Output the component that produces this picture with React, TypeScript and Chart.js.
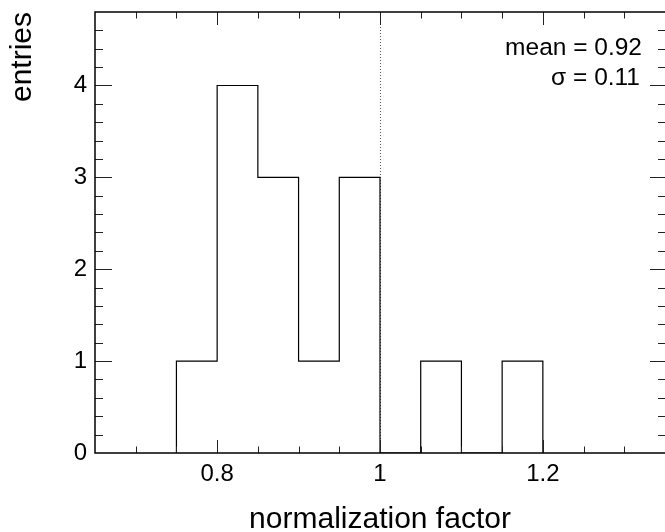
import React, { useEffect, useRef } from 'react';
import { Chart, registerables } from 'chart.js';

Chart.register(...registerables);

// ---- data ----
const binEdges = [0.75, 0.8, 0.85, 0.9, 0.95, 1.0, 1.05, 1.1, 1.15, 1.2];
const binCounts = [1, 4, 3, 1, 3, 0, 1, 0, 1];
const xTickValues = [0.8, 1.0, 1.2];
const xTickLabels = ['0.8', '1', '1.2'];
const yTickValues = [0, 1, 2, 3, 4];
const yTickLabels = ['0', '1', '2', '3', '4'];
const statLabels = ['mean = 0.92', 'σ = 0.11'];
const referenceLine = 1.0;
const xRange = [0.65, 1.35];
const yRange = [0, 4.8];
const xTitle = 'normalization factor';
const yTitle = 'entries';

const FONT = '"Liberation Sans", Arial, Helvetica, sans-serif';

function histogramPoints() {
  const pts: { x: number; y: number }[] = [{ x: binEdges[0], y: 0 }];
  for (let i = 0; i < binCounts.length; i++) {
    pts.push({ x: binEdges[i], y: binCounts[i] });
  }
  pts.push({ x: binEdges[binEdges.length - 1], y: 0 });
  return pts;
}

const rootFrame = {
  id: 'rootFrame',
  beforeDatasetsDraw(chart: any) {
    const { ctx, chartArea: a, scales } = chart;
    const px = scales.x.getPixelForValue(referenceLine);
    ctx.save();
    ctx.strokeStyle = '#555';
    ctx.lineWidth = 1;
    ctx.setLineDash([1, 2]);
    ctx.beginPath();
    ctx.moveTo(Math.round(px) + 0.5, a.top);
    ctx.lineTo(Math.round(px) + 0.5, a.bottom);
    ctx.stroke();
    ctx.restore();
  },
  afterDatasetsDraw(chart: any) {
    const { ctx, chartArea: a, scales } = chart;
    const xs = scales.x;
    const ys = scales.y;
    ctx.save();
    ctx.strokeStyle = '#222';
    ctx.lineWidth = 1;
    ctx.beginPath();
    // x ticks (bottom & top)
    const xStep = 0.05;
    const i0 = Math.ceil(xRange[0] / xStep - 1e-6);
    const i1 = Math.floor(xRange[1] / xStep + 1e-6);
    for (let i = i0; i <= i1; i++) {
      const v = i * xStep;
      if (v <= xRange[0] + 1e-6 || v >= xRange[1] - 1e-6) continue;
      const major = Math.abs(v / 0.2 - Math.round(v / 0.2)) < 1e-6;
      const p = Math.round(xs.getPixelForValue(v)) + 0.5;
      const len = major ? 13 : 6.5;
      ctx.moveTo(p, a.bottom);
      ctx.lineTo(p, a.bottom - len);
      ctx.moveTo(p, a.top);
      ctx.lineTo(p, a.top + len);
    }
    // y ticks (left & right)
    const yStep = 0.2;
    const j0 = Math.ceil(yRange[0] / yStep - 1e-6);
    const j1 = Math.floor(yRange[1] / yStep + 1e-6);
    for (let j = j0; j <= j1; j++) {
      const v = j * yStep;
      if (v <= yRange[0] + 1e-6 || v >= yRange[1] - 1e-6) continue;
      const major = Math.abs(v - Math.round(v)) < 1e-6;
      const p = Math.round(ys.getPixelForValue(v)) + 0.5;
      ctx.moveTo(a.left, p);
      ctx.lineTo(a.left + (major ? 17 : 8), p);
      ctx.moveTo(a.right, p);
      ctx.lineTo(a.right - (major ? 15 : 7), p);
    }
    ctx.stroke();
    // frame
    ctx.strokeStyle = '#000';
    ctx.lineWidth = 1.5;
    ctx.strokeRect(a.left, a.top, a.right - a.left + 3, a.bottom - a.top);
    // stats
    ctx.fillStyle = '#000';
    ctx.font = `24.5px ${FONT}`;
    ctx.textAlign = 'right';
    ctx.textBaseline = 'alphabetic';
    ctx.fillText(statLabels[0], a.right - 23, a.top + 43);
    ctx.fillText(statLabels[1], a.right - 25, a.top + 73);
    ctx.restore();
  },
};

export default function App() {
  const ref = useRef<HTMLCanvasElement | null>(null);
  useEffect(() => {
    if (!ref.current) return;
    const chart = new Chart(ref.current, {
      type: 'line',
      data: {
        datasets: [
          {
            data: histogramPoints(),
            stepped: true,
            borderColor: '#000',
            borderWidth: 1.2,
            pointRadius: 0,
            fill: false,
            tension: 0,
          },
        ],
      },
      options: {
        responsive: false,
        animation: false,
        layout: { padding: { left: 0, right: 0, top: 12, bottom: 0 } },
        plugins: { legend: { display: false }, tooltip: { enabled: false } },
        scales: {
          x: {
            type: 'linear',
            min: xRange[0],
            max: xRange[1],
            grid: { display: false, drawTicks: false },
            border: { display: false },
            afterBuildTicks: (s: any) => {
              s.ticks = xTickValues.map((v) => ({ value: v }));
            },
            afterFit: (s: any) => {
              s.height = 79;
              s.paddingLeft = 0;
              s.paddingRight = 0;
            },
            ticks: {
              padding: 7,
              color: '#000',
              font: { family: FONT, size: 24 },
              maxRotation: 0,
              autoSkip: false,
              callback: (v: any) => {
                const k = xTickValues.findIndex((t) => Math.abs(t - Number(v)) < 1e-9);
                return k >= 0 ? xTickLabels[k] : '';
              },
            },
            title: {
              display: true,
              text: xTitle,
              color: '#000',
              font: { family: FONT, size: 30, lineHeight: 0.85 },
              padding: 0,
            },
          },
          y: {
            type: 'linear',
            min: yRange[0],
            max: yRange[1],
            grid: { display: false, drawTicks: false },
            border: { display: false },
            afterBuildTicks: (s: any) => {
              s.ticks = yTickValues.map((v) => ({ value: v }));
            },
            afterFit: (s: any) => {
              s.width = 95;
              s.paddingTop = 0;
              s.paddingBottom = 0;
            },
            ticks: {
              padding: 8,
              color: '#000',
              font: { family: FONT, size: 24 },
              autoSkip: false,
              callback: (v: any) => {
                const k = yTickValues.findIndex((t) => Math.abs(t - Number(v)) < 1e-9);
                return k >= 0 ? yTickLabels[k] : '';
              },
            },
            title: {
              display: true,
              text: yTitle,
              align: 'end',
              color: '#000',
              font: { family: FONT, size: 30 },
              padding: { top: 5, bottom: 0 },
            },
          },
        },
      },
      plugins: [rootFrame],
    });
    return () => chart.destroy();
  }, []);
  return (
    <div style={{ position: 'absolute', left: 0, top: 0, width: 665, height: 532 }}>
      <canvas ref={ref} width={665} height={532} style={{ display: 'block' }} />
    </div>
  );
}
